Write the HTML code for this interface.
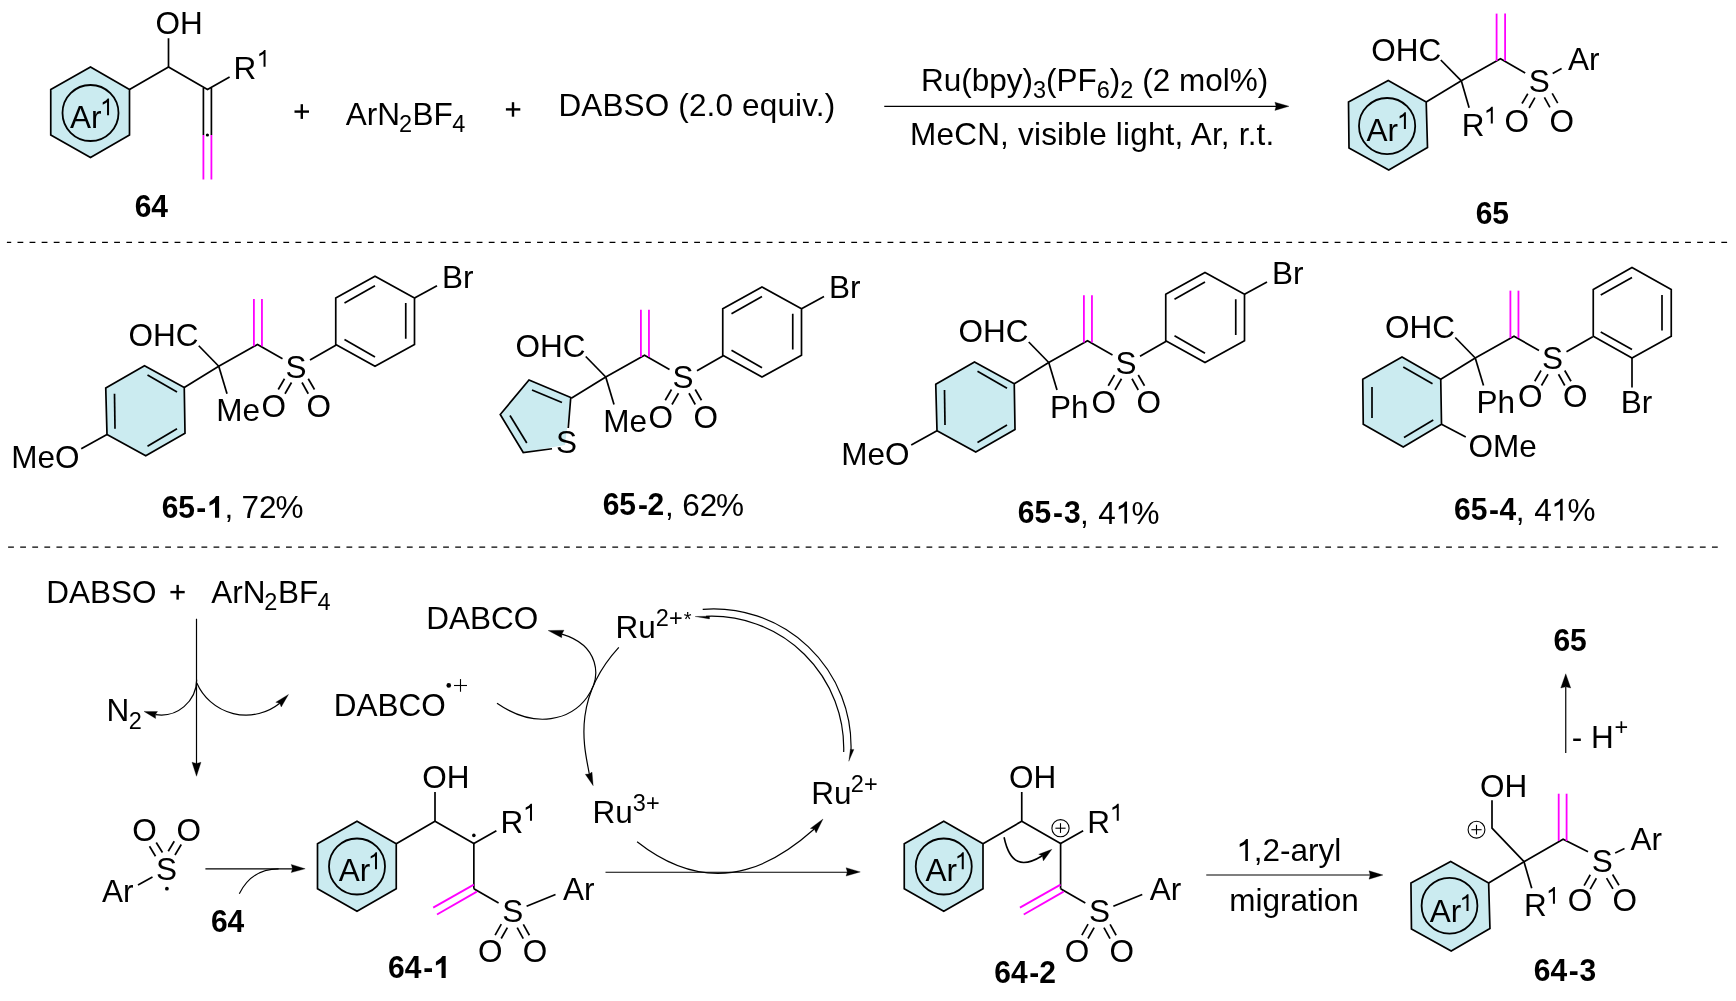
<!DOCTYPE html>
<html><head><meta charset="utf-8"><style>
html,body{margin:0;padding:0;background:#fff;}
svg{display:block;will-change:transform;}
text{font-family:"Liberation Sans",sans-serif;fill:#000;}
</style></head><body>
<svg width="1736" height="1001" viewBox="0 0 1736 1001">
<rect width="1736" height="1001" fill="#fff"/>
<line x1="6.9" y1="242.4" x2="1727.1" y2="242.4" stroke="#000" stroke-width="1.4" stroke-dasharray="5.8 6.284" stroke-dashoffset="1.5"/>
<line x1="8.1" y1="547.2" x2="1717.9" y2="547.2" stroke="#000" stroke-width="1.2" stroke-dasharray="5.8 6.284"/>
<polygon points="90.50,67.00 129.50,89.50 129.50,135.00 90.50,157.50 50.75,135.00 50.75,89.50" fill="#CBEBF0" stroke="#000" stroke-width="1.7" stroke-linejoin="miter"/>
<circle cx="90.50" cy="113.00" r="28.00" fill="none" stroke="#000" stroke-width="1.8"/>
<text x="69.94" y="127.50" font-size="31.5">Ar</text>
<polygon points="109.05,115.35 109.05,98.45 107.70,98.45 105.84,100.48 102.72,102.25 102.72,104.70 105.51,103.18 107.03,102.34 107.03,115.35" fill="#000"/>
<polyline points="129.50,89.50 168.50,67.00 207.50,89.50 229.60,76.90" fill="none" stroke="#000" stroke-width="1.7" stroke-linejoin="miter"/>
<line x1="168.50" y1="67.00" x2="168.50" y2="38.25" stroke="#000" stroke-width="1.7" stroke-linecap="butt"/>
<text x="155.51" y="33.75" font-size="31.5">OH</text>
<text x="233.42" y="78.75" font-size="31.5">R</text>
<polygon points="265.54,66.65 265.54,49.95 264.21,49.95 262.37,51.95 259.28,53.71 259.28,56.13 262.04,54.63 263.54,53.79 263.54,66.65" fill="#000"/>
<line x1="203.40" y1="88.00" x2="203.40" y2="135.00" stroke="#000" stroke-width="1.7" stroke-linecap="butt"/>
<line x1="211.40" y1="88.00" x2="211.40" y2="135.00" stroke="#000" stroke-width="1.7" stroke-linecap="butt"/>
<line x1="203.40" y1="135.00" x2="203.40" y2="179.50" stroke="#FF00FF" stroke-width="1.8" stroke-linecap="butt"/>
<line x1="211.40" y1="135.00" x2="211.40" y2="179.50" stroke="#FF00FF" stroke-width="1.8" stroke-linecap="butt"/>
<circle cx="207.40" cy="135.00" r="1.6" fill="#000"/>
<text transform="translate(134.65,217.00) scale(1.0,1.07)" font-size="30" font-weight="bold">64</text>
<line x1="294.50" y1="111.60" x2="309.00" y2="111.60" stroke="#000" stroke-width="2.4" stroke-linecap="butt"/>
<line x1="301.80" y1="104.20" x2="301.80" y2="118.90" stroke="#000" stroke-width="2.4" stroke-linecap="butt"/>
<text x="345.74" y="124.80" font-size="31.5">ArN</text>
<text x="399.12" y="131.80" font-size="23.5">2</text>
<text x="412.62" y="124.80" font-size="31.5">BF</text>
<text x="452.36" y="131.80" font-size="23.5">4</text>
<line x1="505.90" y1="109.40" x2="520.30" y2="109.40" stroke="#000" stroke-width="2.4" stroke-linecap="butt"/>
<line x1="513.00" y1="102.20" x2="513.00" y2="116.70" stroke="#000" stroke-width="2.4" stroke-linecap="butt"/>
<text x="558.42" y="116.25" font-size="31.5" letter-spacing="0.147">DABSO (2.0 equiv.)</text>
<line x1="884.25" y1="106.30" x2="1277.00" y2="106.30" stroke="#000" stroke-width="1.2" stroke-linecap="butt"/>
<polygon points="1289.00,106.30 1274.90,110.40 1276.10,106.30 1274.90,102.20" fill="#000" stroke="#000" stroke-width="0.3"/>
<text x="920.92" y="90.5" font-size="31.5">Ru(bpy)<tspan font-size="23.5" dy="7">3</tspan><tspan dy="-7">(PF</tspan><tspan font-size="23.5" dy="7">6</tspan><tspan dy="-7">)</tspan><tspan font-size="23.5" dy="7">2</tspan><tspan dy="-7"> (2 mol%)</tspan></text>
<text x="910.12" y="145.1" font-size="31.5" letter-spacing="0.19">MeCN, visible light, Ar, r.t.</text>
<polygon points="1388.25,80.50 1426.20,101.90 1427.50,147.50 1388.75,170.00 1349.00,148.00 1348.50,102.00" fill="#CBEBF0" stroke="#000" stroke-width="1.7" stroke-linejoin="miter"/>
<circle cx="1387.10" cy="126.10" r="28.10" fill="none" stroke="#000" stroke-width="1.8"/>
<text x="1366.44" y="141.25" font-size="31.5">Ar</text>
<polygon points="1405.90,128.90 1405.90,112.20 1404.57,112.20 1402.73,114.20 1399.64,115.96 1399.64,118.38 1402.39,116.88 1403.90,116.04 1403.90,128.90" fill="#000"/>
<line x1="1426.20" y1="101.90" x2="1461.30" y2="80.80" stroke="#000" stroke-width="1.7" stroke-linecap="butt"/>
<line x1="1461.30" y1="80.80" x2="1440.80" y2="60.00" stroke="#000" stroke-width="1.7" stroke-linecap="butt"/>
<line x1="1461.30" y1="80.80" x2="1469.10" y2="107.70" stroke="#000" stroke-width="1.7" stroke-linecap="butt"/>
<polyline points="1461.30,80.80 1500.50,58.70 1525.20,73.00" fill="none" stroke="#000" stroke-width="1.7" stroke-linejoin="miter"/>
<line x1="1496.60" y1="13.60" x2="1496.60" y2="61.00" stroke="#FF00FF" stroke-width="1.8" stroke-linecap="butt"/>
<line x1="1505.10" y1="13.60" x2="1505.10" y2="61.00" stroke="#FF00FF" stroke-width="1.8" stroke-linecap="butt"/>
<line x1="1552.70" y1="73.40" x2="1561.60" y2="68.40" stroke="#000" stroke-width="1.7" stroke-linecap="butt"/>
<text x="1371.26" y="60.50" font-size="31.5">OHC</text>
<text x="1461.82" y="136.20" font-size="31.5">R</text>
<polygon points="1492.80,123.60 1492.80,106.80 1491.45,106.80 1489.61,108.82 1486.50,110.58 1486.50,113.02 1489.27,111.50 1490.78,110.66 1490.78,123.60" fill="#000"/>
<text x="1528.67" y="92.10" font-size="31.5">S</text>
<text x="1567.94" y="70.00" font-size="31.5">Ar</text>
<text x="1504.51" y="132.00" font-size="31.5">O</text>
<text x="1549.41" y="132.00" font-size="31.5">O</text>
<line x1="1522.00" y1="103.50" x2="1527.80" y2="93.80" stroke="#000" stroke-width="1.7" stroke-linecap="butt"/>
<line x1="1529.10" y1="108.00" x2="1534.90" y2="97.70" stroke="#000" stroke-width="1.7" stroke-linecap="butt"/>
<line x1="1549.90" y1="107.40" x2="1544.40" y2="97.30" stroke="#000" stroke-width="1.7" stroke-linecap="butt"/>
<line x1="1557.70" y1="103.20" x2="1552.20" y2="93.40" stroke="#000" stroke-width="1.7" stroke-linecap="butt"/>
<text transform="translate(1475.70,223.80) scale(1.0,1.07)" font-size="30" font-weight="bold">65</text>
<polygon points="144.50,365.75 184.25,387.50 185.00,433.25 145.75,455.75 107.00,434.50 105.75,388.00" fill="#CBEBF0" stroke="#000" stroke-width="1.7" stroke-linejoin="miter"/>
<line x1="147.50" y1="375.00" x2="177.00" y2="392.00" stroke="#000" stroke-width="1.7" stroke-linecap="butt"/>
<line x1="114.50" y1="393.75" x2="115.00" y2="428.75" stroke="#000" stroke-width="1.7" stroke-linecap="butt"/>
<line x1="147.50" y1="446.25" x2="177.00" y2="428.75" stroke="#000" stroke-width="1.7" stroke-linecap="butt"/>
<line x1="107.00" y1="434.50" x2="81.25" y2="448.75" stroke="#000" stroke-width="1.7" stroke-linecap="butt"/>
<text x="11.17" y="468.25" font-size="31.5">MeO</text>
<line x1="184.25" y1="387.50" x2="218.75" y2="366.25" stroke="#000" stroke-width="1.7" stroke-linecap="butt"/>
<line x1="218.75" y1="366.25" x2="198.75" y2="345.75" stroke="#000" stroke-width="1.7" stroke-linecap="butt"/>
<line x1="218.75" y1="366.25" x2="227.00" y2="393.75" stroke="#000" stroke-width="1.7" stroke-linecap="butt"/>
<polyline points="218.75,366.25 257.50,344.50 282.50,358.75" fill="none" stroke="#000" stroke-width="1.7" stroke-linejoin="miter"/>
<line x1="253.90" y1="298.90" x2="253.90" y2="346.30" stroke="#FF00FF" stroke-width="1.8" stroke-linecap="butt"/>
<line x1="261.95" y1="298.90" x2="261.95" y2="346.30" stroke="#FF00FF" stroke-width="1.8" stroke-linecap="butt"/>
<text x="128.51" y="345.75" font-size="31.5">OHC</text>
<text x="216.17" y="420.75" font-size="31.5">Me</text>
<text x="285.57" y="377.50" font-size="31.5">S</text>
<line x1="310.00" y1="360.00" x2="336.25" y2="345.00" stroke="#000" stroke-width="1.7" stroke-linecap="butt"/>
<text x="261.51" y="417.20" font-size="31.5">O</text>
<text x="306.51" y="417.20" font-size="31.5">O</text>
<line x1="284.50" y1="378.75" x2="278.25" y2="389.50" stroke="#000" stroke-width="1.7" stroke-linecap="butt"/>
<line x1="291.50" y1="382.50" x2="285.00" y2="393.75" stroke="#000" stroke-width="1.7" stroke-linecap="butt"/>
<line x1="302.00" y1="382.50" x2="308.25" y2="393.75" stroke="#000" stroke-width="1.7" stroke-linecap="butt"/>
<line x1="308.25" y1="378.75" x2="314.50" y2="389.50" stroke="#000" stroke-width="1.7" stroke-linecap="butt"/>
<polygon points="335.75,298.00 375.00,276.25 414.50,298.00 414.50,344.50 375.00,366.25 335.75,344.50" fill="none" stroke="#000" stroke-width="1.7" stroke-linejoin="miter"/>
<line x1="344.50" y1="303.00" x2="375.00" y2="285.75" stroke="#000" stroke-width="1.7" stroke-linecap="butt"/>
<line x1="405.75" y1="303.00" x2="405.75" y2="338.75" stroke="#000" stroke-width="1.7" stroke-linecap="butt"/>
<line x1="344.50" y1="339.50" x2="375.00" y2="357.00" stroke="#000" stroke-width="1.7" stroke-linecap="butt"/>
<line x1="414.50" y1="298.00" x2="437.00" y2="285.75" stroke="#000" stroke-width="1.7" stroke-linecap="butt"/>
<text x="441.92" y="287.50" font-size="31.5">Br</text>
<text transform="translate(161.65,518.10) scale(1.0,1.07)" font-size="30" font-weight="bold">65</text>
<text transform="translate(196.33,518.10) scale(1.0,1.07)" font-size="30" font-weight="bold">-</text>
<polygon points="219.11,517.80 219.11,496.10 215.97,496.10 214.01,498.70 209.46,501.96 209.46,505.65 212.71,504.13 214.99,502.61 214.99,517.80" fill="#000"/>
<text x="224.47" y="518.10" font-size="31.5">,</text>
<text x="241.49" y="518.10" font-size="31.5">72</text>
<text x="275.61" y="518.10" font-size="31.5">%</text>
<polygon points="570.75,397.50 529.00,380.00 500.25,414.50 523.25,452.50 565.00,445.00" fill="#CBEBF0" stroke="none" stroke-width="1.7" stroke-linejoin="miter"/>
<polyline points="568.25,428.00 570.75,397.50 529.00,380.00 500.25,414.50 523.25,452.50 552.00,448.75" fill="none" stroke="#000" stroke-width="1.7" stroke-linejoin="miter"/>
<line x1="532.00" y1="390.00" x2="562.00" y2="402.50" stroke="#000" stroke-width="1.7" stroke-linecap="butt"/>
<line x1="510.00" y1="415.50" x2="526.80" y2="443.00" stroke="#000" stroke-width="1.7" stroke-linecap="butt"/>
<text x="556.07" y="453.00" font-size="31.5">S</text>
<line x1="571.25" y1="398.25" x2="605.75" y2="377.00" stroke="#000" stroke-width="1.7" stroke-linecap="butt"/>
<line x1="605.75" y1="377.00" x2="585.75" y2="356.50" stroke="#000" stroke-width="1.7" stroke-linecap="butt"/>
<line x1="605.75" y1="377.00" x2="614.00" y2="404.50" stroke="#000" stroke-width="1.7" stroke-linecap="butt"/>
<polyline points="605.75,377.00 644.50,355.25 669.50,369.50" fill="none" stroke="#000" stroke-width="1.7" stroke-linejoin="miter"/>
<line x1="640.90" y1="309.65" x2="640.90" y2="357.05" stroke="#FF00FF" stroke-width="1.8" stroke-linecap="butt"/>
<line x1="648.95" y1="309.65" x2="648.95" y2="357.05" stroke="#FF00FF" stroke-width="1.8" stroke-linecap="butt"/>
<text x="515.51" y="356.50" font-size="31.5">OHC</text>
<text x="603.17" y="431.50" font-size="31.5">Me</text>
<text x="672.57" y="388.25" font-size="31.5">S</text>
<line x1="697.00" y1="370.75" x2="723.25" y2="355.75" stroke="#000" stroke-width="1.7" stroke-linecap="butt"/>
<text x="648.51" y="427.95" font-size="31.5">O</text>
<text x="693.51" y="427.95" font-size="31.5">O</text>
<line x1="671.50" y1="389.50" x2="665.25" y2="400.25" stroke="#000" stroke-width="1.7" stroke-linecap="butt"/>
<line x1="678.50" y1="393.25" x2="672.00" y2="404.50" stroke="#000" stroke-width="1.7" stroke-linecap="butt"/>
<line x1="689.00" y1="393.25" x2="695.25" y2="404.50" stroke="#000" stroke-width="1.7" stroke-linecap="butt"/>
<line x1="695.25" y1="389.50" x2="701.50" y2="400.25" stroke="#000" stroke-width="1.7" stroke-linecap="butt"/>
<polygon points="722.75,308.75 762.00,287.00 801.50,308.75 801.50,355.25 762.00,377.00 722.75,355.25" fill="none" stroke="#000" stroke-width="1.7" stroke-linejoin="miter"/>
<line x1="731.50" y1="313.75" x2="762.00" y2="296.50" stroke="#000" stroke-width="1.7" stroke-linecap="butt"/>
<line x1="792.75" y1="313.75" x2="792.75" y2="349.50" stroke="#000" stroke-width="1.7" stroke-linecap="butt"/>
<line x1="731.50" y1="350.25" x2="762.00" y2="367.75" stroke="#000" stroke-width="1.7" stroke-linecap="butt"/>
<line x1="801.50" y1="308.75" x2="824.00" y2="296.50" stroke="#000" stroke-width="1.7" stroke-linecap="butt"/>
<text x="828.92" y="298.25" font-size="31.5">Br</text>
<text transform="translate(602.65,515.00) scale(1.0,1.07)" font-size="30" font-weight="bold">65</text>
<text transform="translate(637.88,515.00) scale(1.0,1.07)" font-size="30" font-weight="bold">-</text>
<text transform="translate(647.41,515.00) scale(1.0,1.07)" font-size="30" font-weight="bold">2</text>
<text x="664.97" y="515.90" font-size="31.5">,</text>
<text x="682.30" y="515.90" font-size="31.5">62</text>
<text x="716.01" y="515.90" font-size="31.5">%</text>
<polygon points="974.50,362.00 1014.25,383.75 1015.00,429.50 975.75,452.00 937.00,430.75 935.75,384.25" fill="#CBEBF0" stroke="#000" stroke-width="1.7" stroke-linejoin="miter"/>
<line x1="977.50" y1="371.25" x2="1007.00" y2="388.25" stroke="#000" stroke-width="1.7" stroke-linecap="butt"/>
<line x1="944.50" y1="390.00" x2="945.00" y2="425.00" stroke="#000" stroke-width="1.7" stroke-linecap="butt"/>
<line x1="977.50" y1="442.50" x2="1007.00" y2="425.00" stroke="#000" stroke-width="1.7" stroke-linecap="butt"/>
<line x1="937.00" y1="430.75" x2="911.25" y2="445.00" stroke="#000" stroke-width="1.7" stroke-linecap="butt"/>
<text x="841.17" y="464.50" font-size="31.5">MeO</text>
<line x1="1014.25" y1="383.75" x2="1048.75" y2="362.50" stroke="#000" stroke-width="1.7" stroke-linecap="butt"/>
<line x1="1048.75" y1="362.50" x2="1028.75" y2="342.00" stroke="#000" stroke-width="1.7" stroke-linecap="butt"/>
<line x1="1048.75" y1="362.50" x2="1057.00" y2="390.00" stroke="#000" stroke-width="1.7" stroke-linecap="butt"/>
<polyline points="1048.75,362.50 1087.50,340.75 1112.50,355.00" fill="none" stroke="#000" stroke-width="1.7" stroke-linejoin="miter"/>
<line x1="1083.90" y1="295.15" x2="1083.90" y2="342.55" stroke="#FF00FF" stroke-width="1.8" stroke-linecap="butt"/>
<line x1="1091.95" y1="295.15" x2="1091.95" y2="342.55" stroke="#FF00FF" stroke-width="1.8" stroke-linecap="butt"/>
<text x="958.51" y="342.00" font-size="31.5">OHC</text>
<text x="1049.92" y="417.50" font-size="31.5">Ph</text>
<text x="1115.57" y="373.75" font-size="31.5">S</text>
<line x1="1140.00" y1="356.25" x2="1166.25" y2="341.25" stroke="#000" stroke-width="1.7" stroke-linecap="butt"/>
<text x="1091.51" y="413.45" font-size="31.5">O</text>
<text x="1136.51" y="413.45" font-size="31.5">O</text>
<line x1="1114.50" y1="375.00" x2="1108.25" y2="385.75" stroke="#000" stroke-width="1.7" stroke-linecap="butt"/>
<line x1="1121.50" y1="378.75" x2="1115.00" y2="390.00" stroke="#000" stroke-width="1.7" stroke-linecap="butt"/>
<line x1="1132.00" y1="378.75" x2="1138.25" y2="390.00" stroke="#000" stroke-width="1.7" stroke-linecap="butt"/>
<line x1="1138.25" y1="375.00" x2="1144.50" y2="385.75" stroke="#000" stroke-width="1.7" stroke-linecap="butt"/>
<polygon points="1165.75,294.25 1205.00,272.50 1244.50,294.25 1244.50,340.75 1205.00,362.50 1165.75,340.75" fill="none" stroke="#000" stroke-width="1.7" stroke-linejoin="miter"/>
<line x1="1174.50" y1="299.25" x2="1205.00" y2="282.00" stroke="#000" stroke-width="1.7" stroke-linecap="butt"/>
<line x1="1235.75" y1="299.25" x2="1235.75" y2="335.00" stroke="#000" stroke-width="1.7" stroke-linecap="butt"/>
<line x1="1174.50" y1="335.75" x2="1205.00" y2="353.25" stroke="#000" stroke-width="1.7" stroke-linecap="butt"/>
<line x1="1244.50" y1="294.25" x2="1267.00" y2="282.00" stroke="#000" stroke-width="1.7" stroke-linecap="butt"/>
<text x="1271.92" y="283.75" font-size="31.5">Br</text>
<text transform="translate(1017.80,522.70) scale(1.0,1.07)" font-size="30" font-weight="bold">65</text>
<text transform="translate(1053.03,522.70) scale(1.0,1.07)" font-size="30" font-weight="bold">-</text>
<text transform="translate(1064.11,522.70) scale(1.0,1.07)" font-size="30" font-weight="bold">3</text>
<text x="1079.97" y="523.60" font-size="31.5">,</text>
<text x="1098.18" y="523.60" font-size="31.5">4</text>
<polygon points="1127.03,523.60 1127.03,501.50 1125.26,501.50 1122.83,504.15 1118.74,506.47 1118.74,509.68 1122.38,507.69 1124.37,506.58 1124.37,523.60" fill="#000"/>
<text x="1131.51" y="523.60" font-size="31.5">%</text>
<polygon points="1402.00,357.00 1440.75,379.25 1441.50,424.25 1403.25,447.00 1363.25,424.25 1362.75,379.25" fill="#CBEBF0" stroke="#000" stroke-width="1.7" stroke-linejoin="miter"/>
<line x1="1403.25" y1="367.00" x2="1432.50" y2="383.75" stroke="#000" stroke-width="1.7" stroke-linecap="butt"/>
<line x1="1372.00" y1="387.00" x2="1372.00" y2="418.00" stroke="#000" stroke-width="1.7" stroke-linecap="butt"/>
<line x1="1404.00" y1="437.50" x2="1433.25" y2="420.00" stroke="#000" stroke-width="1.7" stroke-linecap="butt"/>
<line x1="1441.50" y1="424.25" x2="1465.75" y2="437.00" stroke="#000" stroke-width="1.7" stroke-linecap="butt"/>
<text x="1468.51" y="457.00" font-size="31.5">OMe</text>
<line x1="1440.75" y1="379.25" x2="1475.25" y2="358.00" stroke="#000" stroke-width="1.7" stroke-linecap="butt"/>
<line x1="1475.25" y1="358.00" x2="1455.25" y2="337.50" stroke="#000" stroke-width="1.7" stroke-linecap="butt"/>
<line x1="1475.25" y1="358.00" x2="1483.50" y2="385.50" stroke="#000" stroke-width="1.7" stroke-linecap="butt"/>
<polyline points="1475.25,358.00 1514.00,336.25 1539.00,350.50" fill="none" stroke="#000" stroke-width="1.7" stroke-linejoin="miter"/>
<line x1="1510.40" y1="290.65" x2="1510.40" y2="338.05" stroke="#FF00FF" stroke-width="1.8" stroke-linecap="butt"/>
<line x1="1518.45" y1="290.65" x2="1518.45" y2="338.05" stroke="#FF00FF" stroke-width="1.8" stroke-linecap="butt"/>
<text x="1385.01" y="337.50" font-size="31.5">OHC</text>
<text x="1476.42" y="413.00" font-size="31.5">Ph</text>
<text x="1542.07" y="369.25" font-size="31.5">S</text>
<line x1="1566.50" y1="351.75" x2="1592.75" y2="336.75" stroke="#000" stroke-width="1.7" stroke-linecap="butt"/>
<text x="1518.01" y="407.15" font-size="31.5">O</text>
<text x="1563.01" y="407.15" font-size="31.5">O</text>
<line x1="1541.00" y1="370.50" x2="1534.75" y2="381.25" stroke="#000" stroke-width="1.7" stroke-linecap="butt"/>
<line x1="1548.00" y1="374.25" x2="1541.50" y2="385.50" stroke="#000" stroke-width="1.7" stroke-linecap="butt"/>
<line x1="1558.50" y1="374.25" x2="1564.75" y2="385.50" stroke="#000" stroke-width="1.7" stroke-linecap="butt"/>
<line x1="1564.75" y1="370.50" x2="1571.00" y2="381.25" stroke="#000" stroke-width="1.7" stroke-linecap="butt"/>
<polygon points="1593.25,336.25 1593.25,289.50 1632.00,267.50 1671.25,289.50 1671.25,336.25 1632.00,358.00" fill="none" stroke="#000" stroke-width="1.7" stroke-linejoin="miter"/>
<line x1="1600.75" y1="295.00" x2="1632.00" y2="277.50" stroke="#000" stroke-width="1.7" stroke-linecap="butt"/>
<line x1="1662.00" y1="295.00" x2="1662.00" y2="330.50" stroke="#000" stroke-width="1.7" stroke-linecap="butt"/>
<line x1="1600.75" y1="332.00" x2="1632.00" y2="349.50" stroke="#000" stroke-width="1.7" stroke-linecap="butt"/>
<line x1="1632.00" y1="358.00" x2="1632.00" y2="387.50" stroke="#000" stroke-width="1.7" stroke-linecap="butt"/>
<text x="1620.67" y="413.00" font-size="31.5">Br</text>
<text transform="translate(1454.00,519.80) scale(1.0,1.07)" font-size="30" font-weight="bold">65</text>
<text transform="translate(1489.03,519.80) scale(1.0,1.07)" font-size="30" font-weight="bold">-</text>
<text transform="translate(1499.55,519.80) scale(1.0,1.07)" font-size="30" font-weight="bold">4</text>
<text x="1515.87" y="520.50" font-size="31.5">,</text>
<text x="1534.18" y="520.50" font-size="31.5">4</text>
<polygon points="1562.70,520.50 1562.70,498.80 1560.97,498.80 1558.58,501.40 1554.56,503.68 1554.56,506.83 1558.14,504.88 1560.10,503.79 1560.10,520.50" fill="#000"/>
<text x="1567.41" y="520.50" font-size="31.5">%</text>
<text x="46.17" y="602.50" font-size="31.5">DABSO</text>
<line x1="170.40" y1="592.10" x2="184.70" y2="592.10" stroke="#000" stroke-width="2.4" stroke-linecap="butt"/>
<line x1="177.65" y1="584.90" x2="177.65" y2="599.60" stroke="#000" stroke-width="2.4" stroke-linecap="butt"/>
<text x="211.19" y="602.50" font-size="31.5">ArN</text>
<text x="264.32" y="609.50" font-size="23.5">2</text>
<text x="277.92" y="602.50" font-size="31.5">BF</text>
<text x="317.46" y="609.50" font-size="23.5">4</text>
<line x1="196.50" y1="618.75" x2="196.50" y2="765.00" stroke="#000" stroke-width="1.2" stroke-linecap="butt"/>
<polygon points="196.50,776.25 192.00,762.25 196.50,763.45 201.00,762.25" fill="#000" stroke="#000" stroke-width="0.3"/>
<path d="M196.7,679.8 A35.7,35.7 0 0 1 155.5,714.6" fill="none" stroke="#000" stroke-width="1.2"/>
<polygon points="144.00,711.40 157.50,711.50 155.50,714.50 155.60,718.50" fill="#000" stroke="#000" stroke-width="0.3" stroke-linejoin="miter"/>
<path d="M196.8,683 A53.8,53.8 0 0 0 279.75,703.25" fill="none" stroke="#000" stroke-width="1.2"/>
<polygon points="288.50,694.40 275.75,702.25 279.75,703.25 281.25,707.00" fill="#000" stroke="#000" stroke-width="0.3" stroke-linejoin="miter"/>
<text x="106.42" y="721.10" font-size="31.5">N</text>
<text x="128.82" y="728.50" font-size="23.5">2</text>
<text x="426.17" y="628.75" font-size="31.5">DABCO</text>
<text x="333.67" y="715.50" font-size="31.5">DABCO</text>
<circle cx="448.75" cy="685.40" r="2.3" fill="#000"/>
<line x1="454.00" y1="685.50" x2="467.00" y2="685.50" stroke="#000" stroke-width="1.1" stroke-linecap="butt"/>
<line x1="460.50" y1="679.10" x2="460.50" y2="691.75" stroke="#000" stroke-width="1.1" stroke-linecap="butt"/>
<text x="615.42" y="638.00" font-size="31.5">Ru</text>
<text x="655.82" y="625.60" font-size="23.5">2+</text>
<text x="683.68" y="626.00" font-size="20">*</text>
<path d="M497.00,703.30 C576.12,757.86 636.04,656.37 561.90,634.10" fill="none" stroke="#000" stroke-width="1.2"/>
<polygon points="548.10,630.50 564.00,630.20 561.90,634.10 561.70,637.70" fill="#000" stroke="#000" stroke-width="0.3" stroke-linejoin="miter"/>
<path d="M618.80,647.30 C569.63,700.97 585.65,751.98 589.30,774.00" fill="none" stroke="#000" stroke-width="1.2"/>
<polygon points="593.20,785.70 592.00,772.10 589.30,774.00 585.30,774.30" fill="#000" stroke="#000" stroke-width="0.3" stroke-linejoin="miter"/>
<path d="M702.7,609.3 A137.5,137.5 0 0 1 851.0,750" fill="none" stroke="#000" stroke-width="1.2"/>
<path d="M706,616.3 A132.2,132.2 0 0 1 843.7,752" fill="none" stroke="#000" stroke-width="1.2"/>
<polygon points="695.10,616.50 709.50,616.20 709.50,618.90" fill="#000" stroke="#000" stroke-width="0.3" stroke-linejoin="miter"/>
<polygon points="848.80,761.30 850.30,749.40 853.90,749.40" fill="#000" stroke="#000" stroke-width="0.3" stroke-linejoin="miter"/>
<text x="592.42" y="823.00" font-size="31.5">Ru</text>
<text x="632.85" y="810.60" font-size="23.5">3+</text>
<text x="811.17" y="803.75" font-size="31.5">Ru</text>
<text x="850.82" y="792.40" font-size="23.5">2+</text>
<path d="M637.10,841.70 C720.51,907.36 785.82,854.27 814.30,829.00" fill="none" stroke="#000" stroke-width="1.2"/>
<polygon points="823.00,819.00 810.30,828.40 814.30,829.00 816.10,833.00" fill="#000" stroke="#000" stroke-width="0.3" stroke-linejoin="miter"/>
<line x1="605.50" y1="872.25" x2="848.00" y2="872.25" stroke="#000" stroke-width="1.2" stroke-linecap="butt"/>
<polygon points="860.30,871.90 846.10,876.10 847.30,871.90 846.10,867.70" fill="#000" stroke="#000" stroke-width="0.3"/>
<text x="156.07" y="879.50" font-size="31.5">S</text>
<text x="132.26" y="840.80" font-size="31.5">O</text>
<text x="176.51" y="840.80" font-size="31.5">O</text>
<text x="101.94" y="902.00" font-size="31.5">Ar</text>
<line x1="138.00" y1="885.00" x2="152.50" y2="877.00" stroke="#000" stroke-width="1.7" stroke-linecap="butt"/>
<circle cx="166.90" cy="888.70" r="1.9" fill="#000"/>
<line x1="149.50" y1="846.25" x2="155.50" y2="856.25" stroke="#000" stroke-width="1.7" stroke-linecap="butt"/>
<line x1="156.25" y1="842.50" x2="162.50" y2="852.50" stroke="#000" stroke-width="1.7" stroke-linecap="butt"/>
<line x1="168.25" y1="851.25" x2="174.25" y2="841.25" stroke="#000" stroke-width="1.7" stroke-linecap="butt"/>
<line x1="175.00" y1="855.00" x2="181.25" y2="844.50" stroke="#000" stroke-width="1.7" stroke-linecap="butt"/>
<line x1="205.40" y1="868.80" x2="293.00" y2="868.80" stroke="#000" stroke-width="1.2" stroke-linecap="butt"/>
<polygon points="305.20,868.80 291.25,864.40 292.50,868.80 291.25,872.60" fill="#000" stroke="#000" stroke-width="0.3" stroke-linejoin="miter"/>
<path d="M239.3,893.7 Q251.85,868.8 278.6,868.8" fill="none" stroke="#000" stroke-width="1.2"/>
<text transform="translate(210.90,931.75) scale(1.0,1.07)" font-size="30" font-weight="bold">64</text>
<polygon points="357.00,821.25 396.25,843.75 396.25,888.75 357.00,911.25 317.50,888.75 317.50,843.75" fill="#CBEBF0" stroke="#000" stroke-width="1.7" stroke-linejoin="miter"/>
<circle cx="357.00" cy="866.50" r="28.00" fill="none" stroke="#000" stroke-width="1.8"/>
<text x="338.69" y="880.50" font-size="31.5">Ar</text>
<polygon points="377.01,869.25 377.01,852.35 375.66,852.35 373.80,854.38 370.68,856.15 370.68,858.60 373.46,857.08 374.99,856.24 374.99,869.25" fill="#000"/>
<polyline points="396.25,843.75 435.00,821.25 473.85,843.60 496.40,830.70" fill="none" stroke="#000" stroke-width="1.7" stroke-linejoin="miter"/>
<line x1="435.00" y1="821.25" x2="435.00" y2="792.00" stroke="#000" stroke-width="1.7" stroke-linecap="butt"/>
<line x1="473.85" y1="843.60" x2="473.85" y2="888.70" stroke="#000" stroke-width="1.7" stroke-linecap="butt"/>
<line x1="473.85" y1="888.70" x2="498.60" y2="903.00" stroke="#000" stroke-width="1.7" stroke-linecap="butt"/>
<text x="422.26" y="787.50" font-size="31.5">OH</text>
<text x="500.42" y="832.50" font-size="31.5">R</text>
<polygon points="532.01,820.65 532.01,803.75 530.66,803.75 528.80,805.78 525.68,807.55 525.68,810.00 528.47,808.48 529.99,807.64 529.99,820.65" fill="#000"/>
<circle cx="473.85" cy="835.40" r="1.8" fill="#000"/>
<line x1="433.20" y1="907.60" x2="473.85" y2="884.60" stroke="#FF00FF" stroke-width="1.8" stroke-linecap="butt"/>
<line x1="437.00" y1="914.50" x2="476.90" y2="891.65" stroke="#FF00FF" stroke-width="1.8" stroke-linecap="butt"/>
<text x="502.27" y="922.20" font-size="31.5">S</text>
<line x1="526.60" y1="906.30" x2="555.50" y2="894.50" stroke="#000" stroke-width="1.7" stroke-linecap="butt"/>
<text x="562.94" y="899.50" font-size="31.5">Ar</text>
<text x="478.01" y="962.00" font-size="31.5">O</text>
<text x="522.76" y="962.00" font-size="31.5">O</text>
<line x1="507.39" y1="927.65" x2="501.21" y2="938.52" stroke="#000" stroke-width="1.7" stroke-linecap="butt"/>
<line x1="501.30" y1="924.19" x2="495.13" y2="935.06" stroke="#000" stroke-width="1.7" stroke-linecap="butt"/>
<line x1="523.34" y1="924.33" x2="529.38" y2="935.27" stroke="#000" stroke-width="1.7" stroke-linecap="butt"/>
<line x1="517.21" y1="927.71" x2="523.26" y2="938.65" stroke="#000" stroke-width="1.7" stroke-linecap="butt"/>
<text transform="translate(388.10,977.90) scale(1.0,1.07)" font-size="30" font-weight="bold">64</text>
<text transform="translate(423.33,977.90) scale(1.0,1.07)" font-size="30" font-weight="bold">-</text>
<polygon points="445.69,977.90 445.69,955.90 442.50,955.90 440.52,958.54 435.90,961.84 435.90,965.58 439.20,964.04 441.51,962.50 441.51,977.90" fill="#000"/>
<polygon points="943.75,821.25 983.00,843.75 983.00,888.75 943.75,911.25 904.25,888.75 904.25,843.75" fill="#CBEBF0" stroke="#000" stroke-width="1.7" stroke-linejoin="miter"/>
<circle cx="943.75" cy="866.50" r="28.00" fill="none" stroke="#000" stroke-width="1.8"/>
<text x="925.44" y="880.50" font-size="31.5">Ar</text>
<polygon points="963.76,869.25 963.76,852.35 962.41,852.35 960.55,854.38 957.43,856.15 957.43,858.60 960.22,857.08 961.74,856.24 961.74,869.25" fill="#000"/>
<polyline points="983.00,843.75 1021.75,821.25 1060.60,843.60 1083.15,830.70" fill="none" stroke="#000" stroke-width="1.7" stroke-linejoin="miter"/>
<line x1="1021.75" y1="821.25" x2="1021.75" y2="792.00" stroke="#000" stroke-width="1.7" stroke-linecap="butt"/>
<line x1="1060.60" y1="843.60" x2="1060.60" y2="888.70" stroke="#000" stroke-width="1.7" stroke-linecap="butt"/>
<line x1="1060.60" y1="888.70" x2="1085.35" y2="903.00" stroke="#000" stroke-width="1.7" stroke-linecap="butt"/>
<text x="1009.01" y="787.50" font-size="31.5">OH</text>
<text x="1087.17" y="832.50" font-size="31.5">R</text>
<polygon points="1118.76,820.65 1118.76,803.75 1117.41,803.75 1115.55,805.78 1112.43,807.55 1112.43,810.00 1115.21,808.48 1116.74,807.64 1116.74,820.65" fill="#000"/>
<line x1="1019.95" y1="907.60" x2="1060.60" y2="884.60" stroke="#FF00FF" stroke-width="1.8" stroke-linecap="butt"/>
<line x1="1023.75" y1="914.50" x2="1063.65" y2="891.65" stroke="#FF00FF" stroke-width="1.8" stroke-linecap="butt"/>
<text x="1089.02" y="922.20" font-size="31.5">S</text>
<line x1="1113.35" y1="906.30" x2="1142.25" y2="894.50" stroke="#000" stroke-width="1.7" stroke-linecap="butt"/>
<text x="1149.69" y="899.50" font-size="31.5">Ar</text>
<text x="1064.76" y="962.00" font-size="31.5">O</text>
<text x="1109.51" y="962.00" font-size="31.5">O</text>
<line x1="1094.14" y1="927.65" x2="1087.96" y2="938.52" stroke="#000" stroke-width="1.7" stroke-linecap="butt"/>
<line x1="1088.05" y1="924.19" x2="1081.88" y2="935.06" stroke="#000" stroke-width="1.7" stroke-linecap="butt"/>
<line x1="1110.09" y1="924.33" x2="1116.13" y2="935.27" stroke="#000" stroke-width="1.7" stroke-linecap="butt"/>
<line x1="1103.96" y1="927.71" x2="1110.01" y2="938.65" stroke="#000" stroke-width="1.7" stroke-linecap="butt"/>
<circle cx="1060.50" cy="828.20" r="8.60" fill="none" stroke="#000" stroke-width="1.1"/>
<line x1="1055.40" y1="828.20" x2="1065.60" y2="828.20" stroke="#000" stroke-width="1.1" stroke-linecap="butt"/>
<line x1="1060.50" y1="823.20" x2="1060.50" y2="832.90" stroke="#000" stroke-width="1.1" stroke-linecap="butt"/>
<path d="M1004.07,837.25 C1009.90,864.66 1022.57,867.96 1042.25,855.70" fill="none" stroke="#000" stroke-width="1.6"/>
<polygon points="1051.90,849.30 1038.70,854.30 1042.25,855.70 1043.35,860.90" fill="#000" stroke="#000" stroke-width="0.3" stroke-linejoin="miter"/>
<text transform="translate(994.30,983.00) scale(1.0,1.07)" font-size="30" font-weight="bold">64</text>
<text transform="translate(1029.23,983.00) scale(1.0,1.07)" font-size="30" font-weight="bold">-</text>
<text transform="translate(1039.26,983.00) scale(1.0,1.07)" font-size="30" font-weight="bold">2</text>
<line x1="1206.25" y1="875.00" x2="1370.00" y2="875.00" stroke="#000" stroke-width="1.2" stroke-linecap="butt"/>
<polygon points="1383.00,875.00 1369.00,879.20 1370.20,875.00 1369.00,870.80" fill="#000" stroke="#000" stroke-width="0.3"/>
<polygon points="1247.91,860.90 1247.91,839.00 1246.16,839.00 1243.75,841.63 1239.70,843.93 1239.70,847.10 1243.31,845.13 1245.29,844.04 1245.29,860.90" fill="#000"/>
<text x="1253.67" y="861.00" font-size="31.5">,2-aryl</text>
<text x="1229.16" y="911.25" font-size="31.5">migration</text>
<polygon points="1450.70,861.50 1488.65,882.90 1489.95,928.50 1451.20,951.00 1411.45,929.00 1410.95,883.00" fill="#CBEBF0" stroke="#000" stroke-width="1.7" stroke-linejoin="miter"/>
<circle cx="1449.50" cy="905.70" r="27.90" fill="none" stroke="#000" stroke-width="1.8"/>
<text x="1429.69" y="921.75" font-size="31.5">Ar</text>
<polygon points="1468.51,910.95 1468.51,894.15 1467.16,894.15 1465.32,896.17 1462.21,897.93 1462.21,900.37 1464.98,898.85 1466.49,898.01 1466.49,910.95" fill="#000"/>
<line x1="1488.65" y1="882.90" x2="1524.00" y2="861.70" stroke="#000" stroke-width="1.7" stroke-linecap="butt"/>
<polyline points="1492.00,800.30 1492.00,828.10 1524.00,861.70" fill="none" stroke="#000" stroke-width="1.7" stroke-linejoin="miter"/>
<line x1="1524.00" y1="861.70" x2="1531.70" y2="888.20" stroke="#000" stroke-width="1.7" stroke-linecap="butt"/>
<polyline points="1524.00,861.70 1563.10,839.20 1588.00,851.80" fill="none" stroke="#000" stroke-width="1.7" stroke-linejoin="miter"/>
<line x1="1558.70" y1="793.70" x2="1558.70" y2="841.00" stroke="#FF00FF" stroke-width="1.8" stroke-linecap="butt"/>
<line x1="1566.60" y1="793.70" x2="1566.60" y2="841.00" stroke="#FF00FF" stroke-width="1.8" stroke-linecap="butt"/>
<line x1="1615.20" y1="852.90" x2="1624.50" y2="848.50" stroke="#000" stroke-width="1.7" stroke-linecap="butt"/>
<text x="1480.01" y="796.50" font-size="31.5">OH</text>
<circle cx="1476.50" cy="829.70" r="8.40" fill="none" stroke="#000" stroke-width="1.1"/>
<line x1="1471.40" y1="829.70" x2="1481.60" y2="829.70" stroke="#000" stroke-width="1.1" stroke-linecap="butt"/>
<line x1="1476.50" y1="824.80" x2="1476.50" y2="834.60" stroke="#000" stroke-width="1.1" stroke-linecap="butt"/>
<text x="1524.02" y="916.00" font-size="31.5">R</text>
<polygon points="1554.94,903.70 1554.94,887.10 1553.61,887.10 1551.78,889.09 1548.71,890.84 1548.71,893.24 1551.45,891.75 1552.94,890.92 1552.94,903.70" fill="#000"/>
<text x="1591.67" y="871.70" font-size="31.5">S</text>
<text x="1630.54" y="849.60" font-size="31.5">Ar</text>
<text x="1567.81" y="911.40" font-size="31.5">O</text>
<text x="1612.41" y="911.40" font-size="31.5">O</text>
<line x1="1596.35" y1="878.22" x2="1590.21" y2="889.11" stroke="#000" stroke-width="1.7" stroke-linecap="butt"/>
<line x1="1590.25" y1="874.78" x2="1584.12" y2="885.67" stroke="#000" stroke-width="1.7" stroke-linecap="butt"/>
<line x1="1612.61" y1="874.55" x2="1618.98" y2="885.30" stroke="#000" stroke-width="1.7" stroke-linecap="butt"/>
<line x1="1606.59" y1="878.11" x2="1612.95" y2="888.87" stroke="#000" stroke-width="1.7" stroke-linecap="butt"/>
<text transform="translate(1533.80,981.30) scale(1.0,1.07)" font-size="30" font-weight="bold">64</text>
<text transform="translate(1568.73,981.30) scale(1.0,1.07)" font-size="30" font-weight="bold">-</text>
<text transform="translate(1579.41,981.30) scale(1.0,1.07)" font-size="30" font-weight="bold">3</text>
<line x1="1565.75" y1="753.00" x2="1565.75" y2="687.00" stroke="#000" stroke-width="1.2" stroke-linecap="butt"/>
<polygon points="1565.75,673.75 1570.75,688.00 1565.75,686.80 1560.75,688.00" fill="#000" stroke="#000" stroke-width="0.3"/>
<text x="1571.85" y="747.50" font-size="31.5">- H</text>
<text x="1614.60" y="735.00" font-size="23.5">+</text>
<text transform="translate(1553.40,651.25) scale(1.0,1.07)" font-size="30" font-weight="bold">65</text>
</svg>
</body></html>
